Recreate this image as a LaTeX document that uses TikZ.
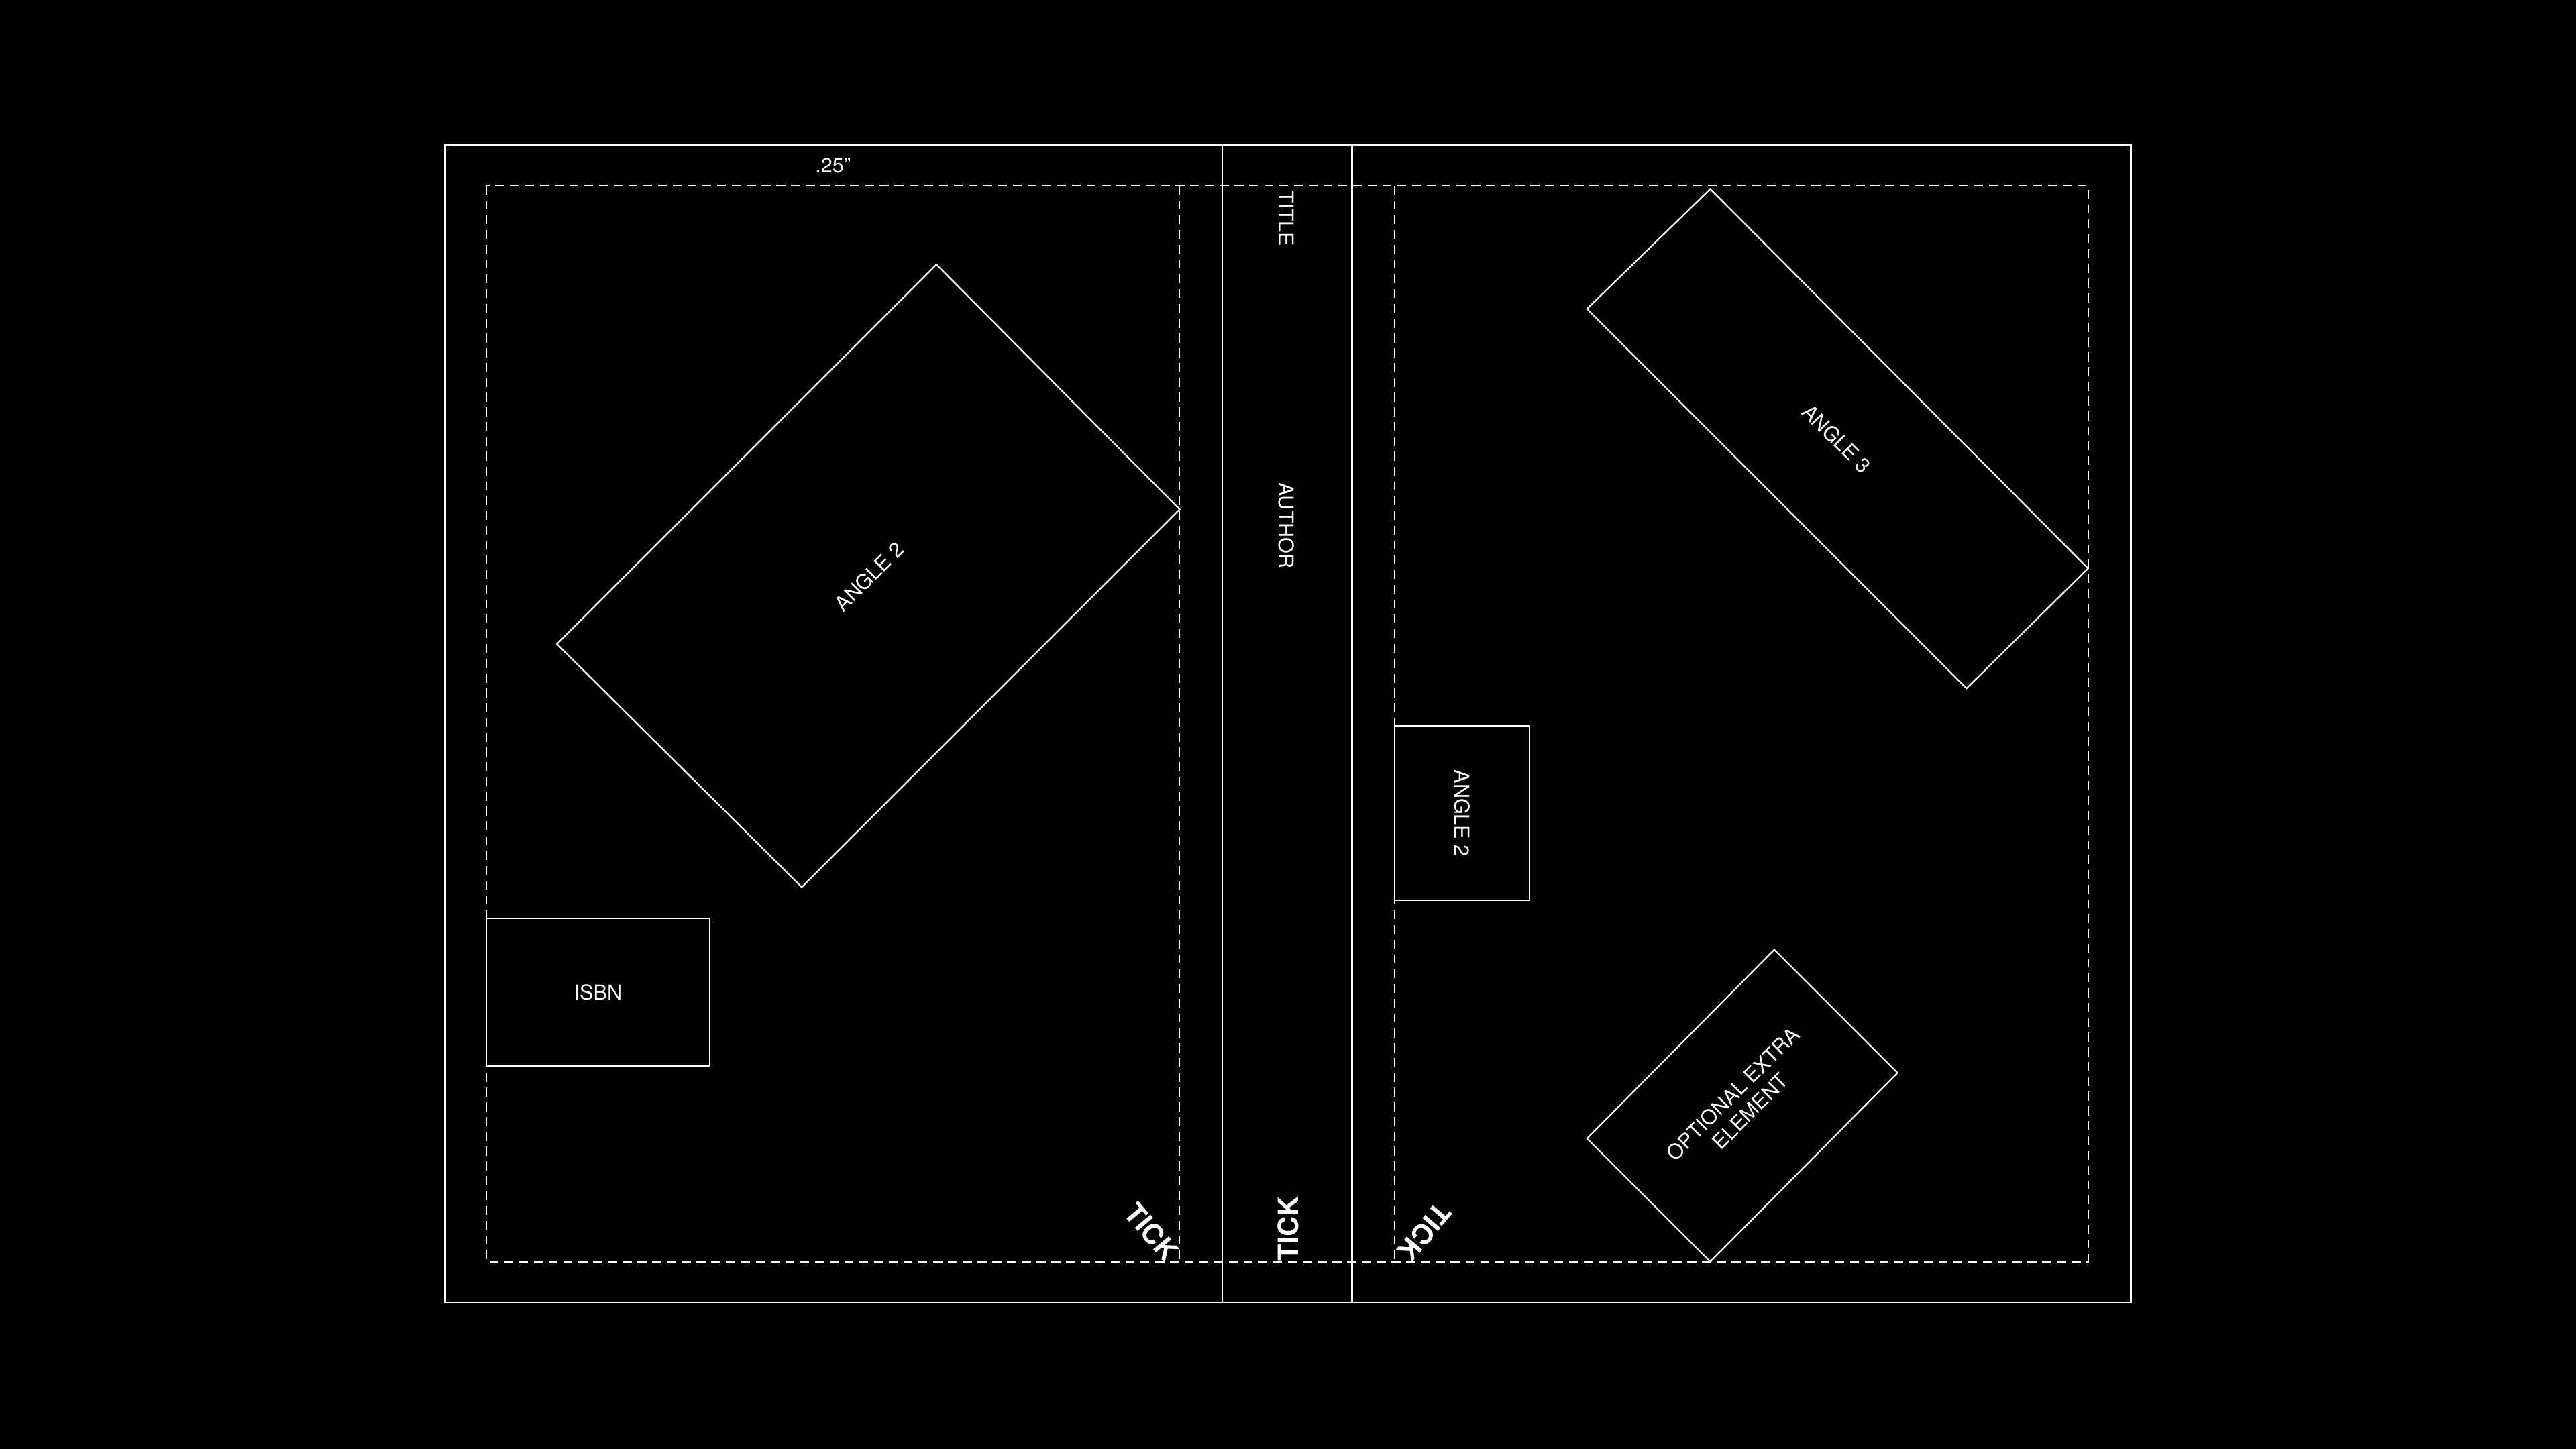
\documentclass[tikz,border=0pt]{standalone}
\usepackage{fontspec}
\setmainfont{TeX Gyre Heros}
\begin{document}
\begin{tikzpicture}[x=1pt,y=-1pt,
  line/.style={draw=white,line width=0.9pt},
  guide/.style={draw=white,line width=0.9pt,dash pattern=on 5.5pt off 3.5pt},
  lbl/.style={text=white,inner sep=0pt,font=\fontsize{12.5}{14}\selectfont,align=center},
  tick/.style={text=white,inner sep=0pt,font=\fontsize{17}{19}\selectfont\bfseries}]
\fill[black] (0,0) rectangle (1568,882);
\useasboundingbox (0,0) rectangle (1568,882);
% outer trim and spine
\draw[line,line width=1.1pt] (271,88) rectangle (1297,793);
\draw[line] (744,88) -- (744,793);
\draw[line] (823,88) -- (823,793);
% safe-area guides
\draw[guide] (296,113) rectangle (1271,768);
\draw[guide] (718,113) -- (718,768);
\draw[guide] (849,113) -- (849,768);
% back cover
\coordinate (a2a) at (570,161); \coordinate (a2b) at (718,310);
\coordinate (a2c) at (488,540); \coordinate (a2d) at (339,392);
\draw[line] (a2a) -- (a2b) -- (a2c) -- (a2d) -- cycle;
\node[lbl,rotate=45] (angle2L) at (529,351) {ANGLE 2};
\draw[line] (296,559) rectangle (432,649);
\node[lbl] (isbn) at (364,604) {ISBN};
\node[lbl] (margin) at (507,101) {.25\char"201D};
% spine
\node[lbl,rotate=-90] (title) at (783,133) {TITLE};
\node[lbl,rotate=-90] (author) at (783,320) {AUTHOR};
% front cover
\coordinate (a3a) at (1041,115); \coordinate (a3b) at (1271,346);
\coordinate (a3c) at (1197,419); \coordinate (a3d) at (966,188);
\draw[line] (a3a) -- (a3b) -- (a3c) -- (a3d) -- cycle;
\node[lbl,rotate=-45] (angle3) at (1118,267) {ANGLE 3};
\draw[line] (849,442) rectangle (931,548);
\node[lbl,rotate=-90] (angle2R) at (890,495) {ANGLE 2};
\coordinate (oea) at (1080,578); \coordinate (oeb) at (1155,653);
\coordinate (oec) at (1041,768); \coordinate (oed) at (966,693);
\draw[line] (oea) -- (oeb) -- (oec) -- (oed) -- cycle;
\node[lbl,rotate=45,font=\fontsize{12.5}{15}\selectfont] (optional) at (1060,671) {OPTIONAL EXTRA\\ELEMENT};
% ticks
\node[tick,rotate=-50] (tickL) at (701,750) {TICK};
\node[tick,rotate=90] (tickM) at (784,748) {TICK};
\node[tick,rotate=-130] (tickR) at (867,750) {TICK};
\end{tikzpicture}
\end{document}
